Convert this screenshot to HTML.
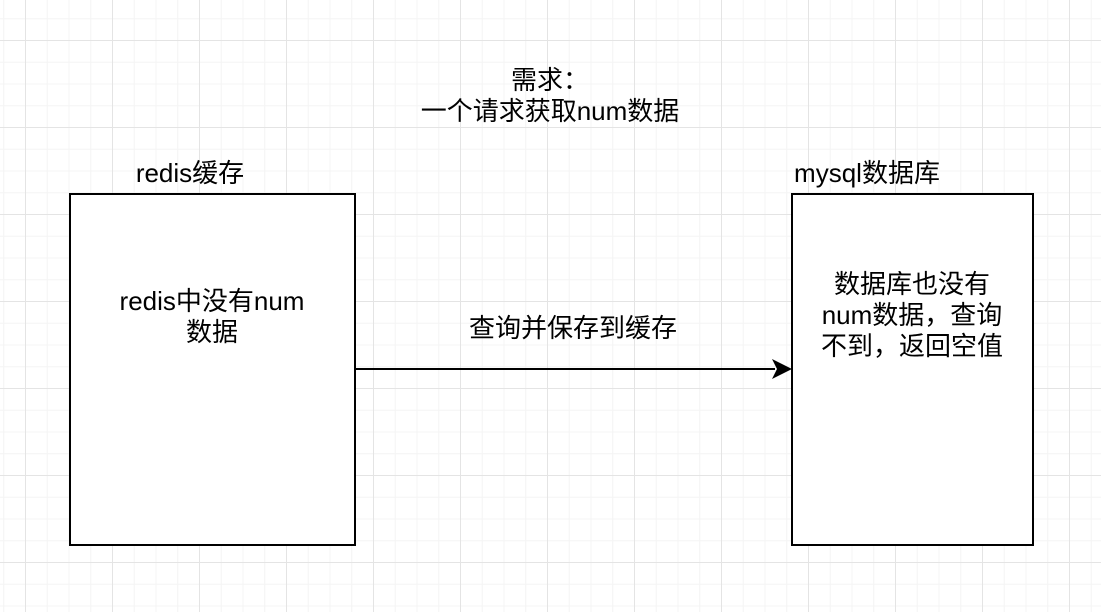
<!DOCTYPE html>
<html><head><meta charset="utf-8"><style>
html,body{margin:0;padding:0;}
body{width:1101px;height:612px;position:relative;overflow:hidden;background-color:#fff;
background-image:
linear-gradient(#e4e4e4 1px,transparent 1px),
linear-gradient(90deg,#e4e4e4 1px,transparent 1px),
linear-gradient(#f4f4f4 1px,transparent 1px),
linear-gradient(90deg,#f4f4f4 1px,transparent 1px);
background-size:87px 87px,87px 87px,21.75px 21.75px,21.75px 21.75px;
background-position:25px 40px,25px 40px,25px 40px,25px 40px;
font-family:"Liberation Sans","Noto Sans CJK SC",sans-serif;font-size:26px;color:#000;}
.box{position:absolute;border:2px solid #000;background:#fff;box-sizing:border-box;}
.t{position:absolute;text-align:center;line-height:31px;white-space:nowrap;}
</style></head><body>
<div class="t" style="left:400px;top:65px;width:300px;">需求：<br>一个请求获取num数据</div>
<div class="t" style="left:70px;top:158px;width:240px;">redis缓存</div>
<div class="t" style="left:757px;top:158px;width:220px;">mysql数据库</div>
<div class="box" style="left:69px;top:193px;width:287px;height:353px;"></div>
<div class="box" style="left:791px;top:193px;width:243px;height:353px;"></div>
<div class="t" style="left:70px;top:286px;width:284px;">redis中没有num<br>数据</div>
<div class="t" style="left:792px;top:269px;width:240px;">数据库也没有<br>num数据，查询<br>不到，返回空值</div>
<div class="t" style="left:423px;top:313px;width:300px;">查询并保存到缓存</div>
<svg style="position:absolute;left:0;top:0" width="1101" height="612">
<line x1="355" y1="369" x2="775" y2="369" stroke="#000" stroke-width="2"/>
<polygon points="792,369 772,359 777,369 772,379" fill="#000"/>
</svg>
</body></html>
